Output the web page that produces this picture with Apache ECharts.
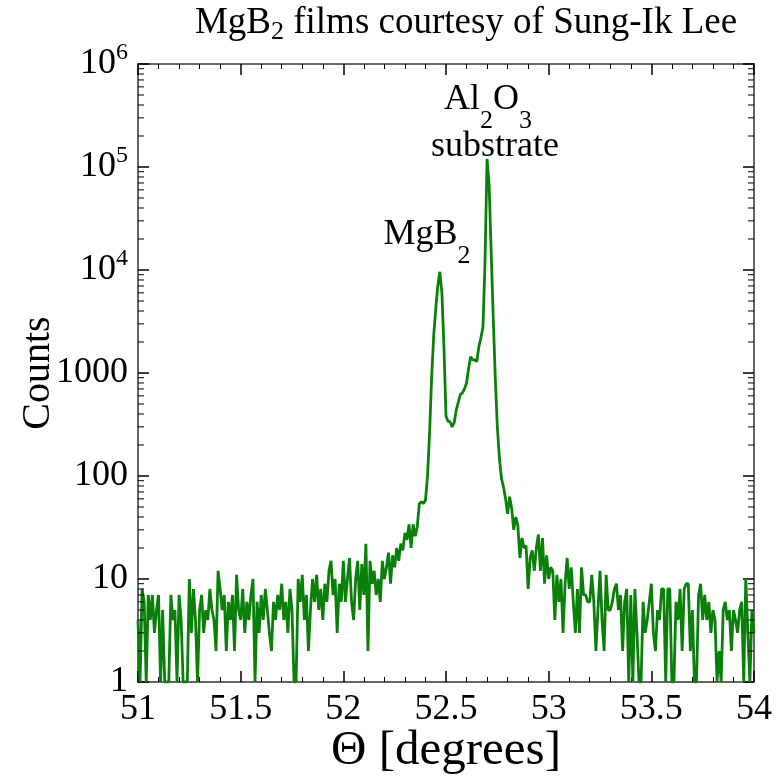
<!DOCTYPE html>
<html><head><meta charset="utf-8">
<script src="https://cdn.jsdelivr.net/npm/echarts@6/dist/echarts.min.js"></script>
<style>html,body{margin:0;padding:0;background:#fff}#main{width:779px;height:784px}</style>
</head><body><div id="main"></div>
<script>
// Scan grid (degrees) and measured counts (zero counts shown at the log-axis floor of 1)
const thetaStart = 51.0;
const thetaStep = 0.01;
const counts = [
  4, 1, 8, 6, 1, 7, 4, 7, 3, 5,
  7, 1, 5, 1, 1, 1, 7, 4, 5, 1,
  7, 4, 1, 1, 1, 10, 3, 8, 4, 1,
  5, 7, 3, 5, 4, 8, 5, 4, 2, 12,
  8, 5, 7, 2, 6, 4, 7, 2, 11, 5,
  4, 8, 3, 6, 4, 7, 10, 1, 6, 3,
  7, 4, 8, 5, 3, 2, 6, 4, 7, 5,
  9, 4, 6, 3, 8, 5, 1, 1, 10, 6,
  11, 4, 7, 2, 5, 10, 6, 11, 5, 8,
  4, 9, 6, 12, 15, 7, 10, 3, 9, 6,
  15, 6, 10, 16, 6, 4, 10, 15, 5, 14,
  7, 22, 2, 15, 9, 12, 7, 10, 6, 15,
  10, 13, 18, 9, 17, 13, 20, 15, 22, 19,
  28, 24, 34, 20, 34, 26, 32, 54, 56, 54,
  58, 100, 260, 900, 2300, 4200, 7000, 9600, 6000, 1800,
  380, 340, 335, 300, 330, 437, 520, 620, 640, 700,
  800, 1100, 1440, 1340, 1340, 1290, 1800, 2200, 2800, 12000,
  120000, 67000, 15000, 3500, 900, 300, 150, 95, 78, 60,
  43, 63, 48, 30, 40, 33, 16, 25, 20, 21,
  8, 16, 19, 12, 20, 27, 12, 25, 9, 17,
  10, 13, 12, 4, 11, 6, 10, 3, 9, 16,
  8, 13, 6, 3, 8, 3, 13, 7, 7, 6,
  6, 11, 6, 2, 5, 12, 4, 2, 11, 5,
  5, 6, 8, 9, 5, 7, 2, 6, 8, 1,
  7, 1, 8, 3, 1, 1, 6, 3, 4, 6,
  9, 3, 2, 5, 4, 8, 8, 1, 8, 8,
  1, 1, 6, 4, 8, 2, 8, 9, 9, 2,
  5, 1, 1, 7, 9, 4, 7, 4, 6, 3,
  5, 4, 1, 2, 1, 5, 6, 4, 5, 2,
  5, 4, 3, 5, 6, 1, 10, 3, 1, 5,
  3
];
const xRange = [51, 54];
const xTickStep = 0.5;
const yRange = [1, 1000000];
const minorMultipliers = [2, 3, 4, 5, 6, 7, 8, 9];

const FONT = "'Liberation Serif', 'Times New Roman', serif";
const data = counts.map((c, i) => [Math.round((thetaStart + i * thetaStep) * 1000) / 1000, c]);

const chart = echarts.init(document.getElementById('main'), null, {renderer: 'canvas'});

const axisLineStyle = {color: '#666', width: 2};
const tickStyle = {color: '#000', width: 1.5};
const minorStyle = {color: '#000', width: 1};

function xAxisCfg(pos, showLabel) {
  return {
    type: 'value', position: pos, min: xRange[0], max: xRange[1], interval: xTickStep,
    axisLine: {show: true, onZero: false, lineStyle: axisLineStyle},
    axisTick: {show: true, inside: true, length: 11, lineStyle: tickStyle},
    minorTick: {show: true, splitNumber: 5, length: 5, lineStyle: minorStyle},
    splitLine: {show: false},
    axisLabel: {show: showLabel, fontFamily: FONT, fontSize: 36, color: '#000', margin: 10,
      formatter: v => String(v)},
    name: showLabel ? 'Θ [degrees]' : '',
    nameLocation: 'middle', nameGap: 45, nameMoveOverlap: false,
    nameTextStyle: {fontFamily: FONT, fontSize: 49, color: '#000'}
  };
}
function yAxisCfg(pos, showLabel) {
  return {
    type: 'log', logBase: 10, position: pos, min: yRange[0], max: yRange[1],
    axisLine: {show: true, onZero: false, lineStyle: axisLineStyle},
    axisTick: {show: true, inside: true, length: 11, lineStyle: tickStyle},
    splitLine: {show: false},
    axisLabel: {show: showLabel, fontFamily: FONT, fontSize: 36, color: '#000', margin: 10,
      formatter: v => {
        const e = Math.round(Math.log10(v));
        return e >= 4 ? '{b|10}{s|' + e + '}' : '{b|' + Math.round(v) + '}';
      },
      rich: {
        b: {fontFamily: FONT, fontSize: 36, color: '#000'},
        s: {fontFamily: FONT, fontSize: 24, color: '#000', padding: [0, 0, 22, 0]}
      }
    },
    name: showLabel ? 'Counts' : '',
    nameLocation: 'middle', nameRotate: 90, nameGap: 80, nameMoveOverlap: false,
    nameTextStyle: {fontFamily: FONT, fontSize: 40, color: '#000'}
  };
}

chart.setOption({
  animation: false,
  backgroundColor: '#fff',
  grid: {left: 138, right: 25, top: 64, bottom: 102, containLabel: false},
  xAxis: [xAxisCfg('bottom', true), xAxisCfg('top', false)],
  yAxis: [yAxisCfg('left', true), yAxisCfg('right', false)],
  series: [{
    type: 'line', xAxisIndex: 0, yAxisIndex: 0, data: data,
    showSymbol: false, symbol: 'none', clip: true,
    lineStyle: {color: '#0a800a', width: 2.8}
  }]
});

// Minor log ticks (2..9 x decade) on both vertical edges, placed through the axis scale
const xL = chart.convertToPixel({xAxisIndex: 0}, xRange[0]);
const xR = chart.convertToPixel({xAxisIndex: 0}, xRange[1]);
const graphics = [];
for (let k = 0; k < 6; k++) {
  for (const m of minorMultipliers) {
    const y = chart.convertToPixel({yAxisIndex: 0}, m * Math.pow(10, k));
    graphics.push({type: 'line', shape: {x1: xL, y1: y, x2: xL + 6, y2: y}, style: {stroke: '#000', lineWidth: 1}, z: 5});
    graphics.push({type: 'line', shape: {x1: xR, y1: y, x2: xR - 6, y2: y}, style: {stroke: '#000', lineWidth: 1}, z: 5});
  }
}
// Title and annotations
graphics.push({type: 'text', x: 466, y: 23, z: 10, style: {
  text: '{m|MgB}{s|2}{m| films courtesy of Sung-Ik Lee}',
  align: 'center', verticalAlign: 'middle',
  rich: {m: {fontFamily: FONT, fontSize: 37, fill: '#000'},
         s: {fontFamily: FONT, fontSize: 26, fill: '#000', padding: [18, 0, 0, 0]}}
}});
graphics.push({type: 'text', x: 488, y: 100, z: 10, style: {
  text: '{m|Al}{s|2}{m|O}{s|3}',
  align: 'center', verticalAlign: 'middle',
  rich: {m: {fontFamily: FONT, fontSize: 36, fill: '#000'},
         s: {fontFamily: FONT, fontSize: 26, fill: '#000', padding: [42, 0, 0, 0]}}
}});
graphics.push({type: 'text', x: 495, y: 147, z: 10, style: {
  text: 'substrate', align: 'center', verticalAlign: 'middle',
  fontFamily: FONT, fontSize: 36, fill: '#000'
}});
graphics.push({type: 'text', x: 427, y: 235, z: 10, style: {
  text: '{m|MgB}{s|2}',
  align: 'center', verticalAlign: 'middle',
  rich: {m: {fontFamily: FONT, fontSize: 36, fill: '#000'},
         s: {fontFamily: FONT, fontSize: 26, fill: '#000', padding: [42, 0, 0, 0]}}
}});
chart.setOption({graphic: graphics});
</script>
</body></html>
